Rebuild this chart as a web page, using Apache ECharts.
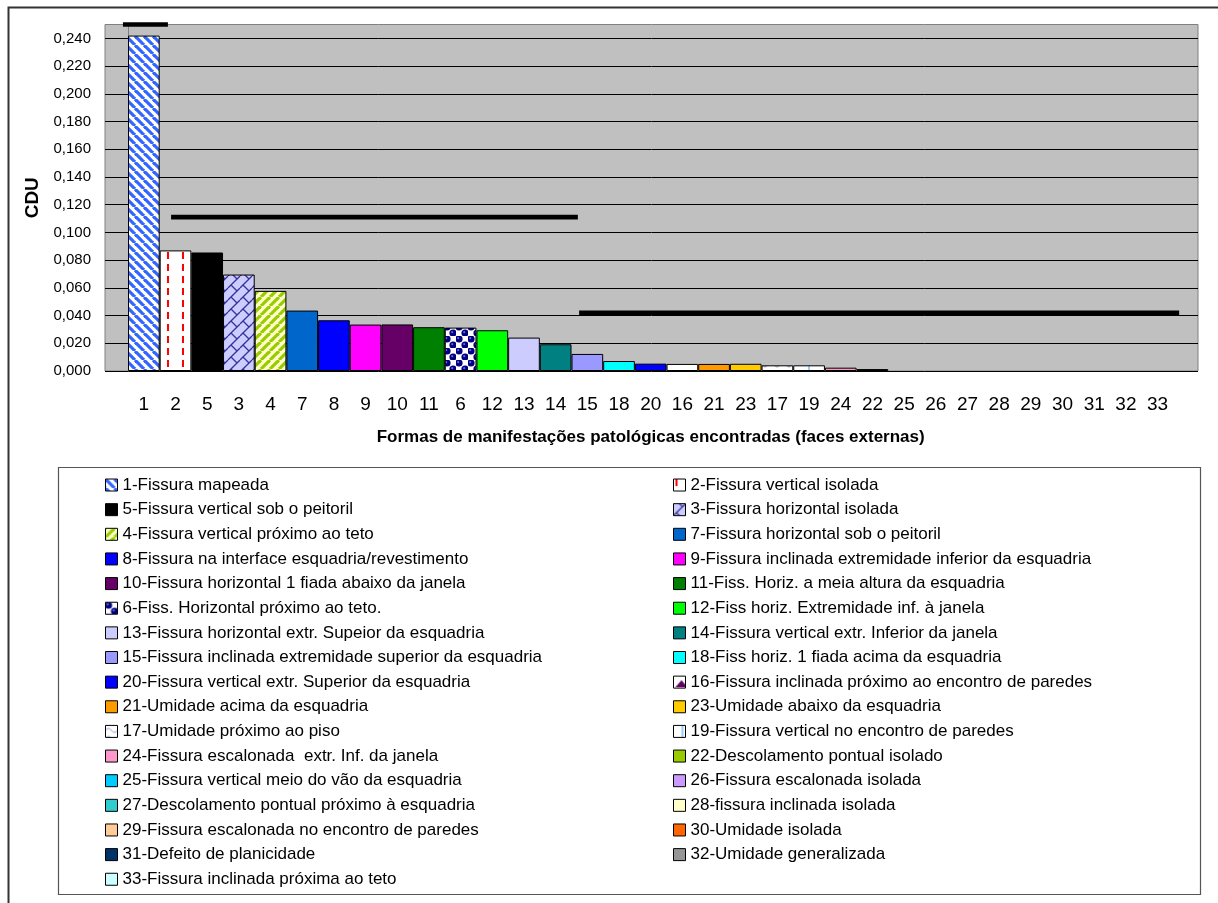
<!DOCTYPE html>
<html>
<head>
<meta charset="utf-8">
<script src="https://cdn.jsdelivr.net/npm/echarts@6/dist/echarts.min.js"></script>
<style>
  html, body { margin: 0; padding: 0; background: #fff; }
  #chart { width: 1218px; height: 903px; }
</style>
</head>
<body>
<div id="chart"></div>
<script>
// Categories in Pareto order (pathology number)
const categories = ['1','2','5','3','4','7','8','9','10','11','6','12','13','14','15','18','20','16','21','23','17','19','24','22','25','26','27','28','29','30','31','32','33'];

// CDU value for each category
const cduValues = [0.242, 0.087, 0.0855, 0.0696, 0.0578, 0.0436, 0.0366, 0.0335, 0.0336, 0.0316,
                   0.0313, 0.0294, 0.0241, 0.0193, 0.0123, 0.0072, 0.0053, 0.0051, 0.0051, 0.0052,
                   0.0041, 0.0041, 0.0024, 0.0014, 0, 0, 0, 0, 0, 0, 0, 0, 0];

// Full legend names, same order as the categories
const seriesNames = [
  '1-Fissura mapeada',
  '2-Fissura vertical isolada',
  '5-Fissura vertical sob o peitoril',
  '3-Fissura horizontal isolada',
  '4-Fissura vertical próximo ao teto',
  '7-Fissura horizontal sob o peitoril',
  '8-Fissura na interface esquadria/revestimento',
  '9-Fissura inclinada extremidade inferior da esquadria',
  '10-Fissura horizontal 1 fiada abaixo da janela',
  '11-Fiss. Horiz. a meia altura da esquadria',
  '6-Fiss. Horizontal próximo ao teto.',
  '12-Fiss horiz. Extremidade inf. à janela',
  '13-Fissura horizontal extr. Supeior da esquadria',
  '14-Fissura vertical extr. Inferior da janela',
  '15-Fissura inclinada extremidade superior da esquadria',
  '18-Fiss horiz. 1 fiada acima da esquadria',
  '20-Fissura vertical extr. Superior da esquadria',
  '16-Fissura inclinada próximo ao encontro de paredes',
  '21-Umidade acima da esquadria',
  '23-Umidade abaixo da esquadria',
  '17-Umidade próximo ao piso',
  '19-Fissura vertical no encontro de paredes',
  '24-Fissura escalonada  extr. Inf. da janela',
  '22-Descolamento pontual isolado',
  '25-Fissura vertical meio do vão da esquadria',
  '26-Fissura escalonada isolada',
  '27-Descolamento pontual próximo à esquadria',
  '28-fissura inclinada isolada',
  '29-Fissura escalonada no encontro de paredes',
  '30-Umidade isolada',
  '31-Defeito de planicidade',
  '32-Umidade generalizada',
  '33-Fissura inclinada próxima ao teto'
];

// Fill of each bar: a colour, or the name of a hatch pattern
const barFills = ['hatchBlue', 'dashRed', '#000000', 'brickNavy', 'hatchGreen', '#0066CC', '#0000FF', '#FF00FF',
                  '#660066', '#008000', 'spheres', '#00FF00', '#CCCCFF', '#008080', '#9999FF', '#00FFFF',
                  '#0000FF', 'triangles', '#FF9900', '#FFCC00', 'waves', 'vlines', '#FF99CC', '#99CC00',
                  '#00CCFF', '#CC99FF', '#33CCCC', '#FFFFCC', '#FFCC99', '#FF6600', '#003366', '#969696', '#CCFFFF'];

// Y axis tick labels
const yTicks = [0, 0.02, 0.04, 0.06, 0.08, 0.10, 0.12, 0.14, 0.16, 0.18, 0.20, 0.22, 0.24];

// Class limit lines (A / B / C groups), x in bar-slot units
const classLineFrom  = [-0.16, 1.36, 14.24];
const classLineTo    = [1.26, 14.2, 33.18];
const classLineValue = [0.25, 0.111, 0.042];

const FONT = 'Liberation Sans, Arial, sans-serif';

function makePattern(w, h, draw) {
  const c = document.createElement('canvas');
  c.width = w; c.height = h;
  const ctx = c.getContext('2d');
  draw(ctx, w, h);
  return { image: c, repeat: 'repeat' };
}

const patterns = {
  hatchBlue: makePattern(9, 9, (ctx, s) => {
    ctx.fillStyle = '#fff'; ctx.fillRect(0, 0, s, s);
    ctx.strokeStyle = '#3366FF'; ctx.lineWidth = 3.2;
    for (const o of [-s, 0, s]) { ctx.beginPath(); ctx.moveTo(o, 0); ctx.lineTo(o + s, s); ctx.stroke(); }
  }),
  hatchGreen: makePattern(9, 9, (ctx, s) => {
    ctx.fillStyle = '#FFFFCC'; ctx.fillRect(0, 0, s, s);
    ctx.strokeStyle = '#99CC00'; ctx.lineWidth = 3.2;
    for (const o of [-s, 0, s]) { ctx.beginPath(); ctx.moveTo(o, s); ctx.lineTo(o + s, 0); ctx.stroke(); }
  }),
  dashRed: makePattern(15, 12, (ctx, w, h) => {
    ctx.fillStyle = '#fff'; ctx.fillRect(0, 0, w, h);
    ctx.fillStyle = '#FF0000'; ctx.fillRect(2, 0, 2, 7);
  }),
  brickNavy: makePattern(12, 12, (ctx, s) => {
    ctx.fillStyle = '#CCCCFF'; ctx.fillRect(0, 0, s, s);
    ctx.strokeStyle = '#333399'; ctx.lineWidth = 1.3;
    for (const o of [-s, 0, s]) { ctx.beginPath(); ctx.moveTo(o, s); ctx.lineTo(o + s, 0); ctx.stroke(); }
    ctx.beginPath(); ctx.moveTo(3, 9); ctx.lineTo(9, 15); ctx.stroke();
    ctx.beginPath(); ctx.moveTo(3, -3); ctx.lineTo(9, 3); ctx.stroke();
  }),
  spheres: makePattern(12, 12, (ctx, s) => {
    ctx.fillStyle = '#fff'; ctx.fillRect(0, 0, s, s);
    ctx.fillStyle = '#000080';
    for (const [x, y] of [[3, 3], [9, 9]]) { ctx.beginPath(); ctx.arc(x, y, 3.6, 0, Math.PI * 2); ctx.fill(); }
    ctx.fillStyle = '#6666CC';
    for (const [x, y] of [[2.2, 2.2], [8.2, 8.2]]) { ctx.beginPath(); ctx.arc(x, y, 1.1, 0, Math.PI * 2); ctx.fill(); }
  }),
  triangles: makePattern(16, 16, (ctx, s) => {
    ctx.fillStyle = '#fff'; ctx.fillRect(0, 0, s, s);
    ctx.fillStyle = '#660066';
    ctx.beginPath(); ctx.moveTo(2, 11); ctx.lineTo(8, 4); ctx.lineTo(14, 11); ctx.closePath(); ctx.fill();
  }),
  waves: makePattern(12, 8, (ctx, w, h) => {
    ctx.fillStyle = '#fff'; ctx.fillRect(0, 0, w, h);
    ctx.strokeStyle = '#9999CC'; ctx.lineWidth = 1;
    ctx.beginPath(); ctx.moveTo(0, 5); ctx.quadraticCurveTo(3, 1, 6, 5); ctx.quadraticCurveTo(9, 9, 12, 5); ctx.stroke();
  }),
  vlines: makePattern(16, 8, (ctx, w, h) => {
    ctx.fillStyle = '#fff'; ctx.fillRect(0, 0, w, h);
    ctx.fillStyle = '#99CCFF'; ctx.fillRect(8, 0, 2, h);
  })
};

function fillFor(i) {
  const f = barFills[i];
  return patterns[f] || f;
}

const barSeries = categories.map((c, i) => ({
  name: seriesNames[i],
  type: 'bar',
  xAxisIndex: 1,
  yAxisIndex: 1,
  stack: 'cdu',
  barWidth: '100%',
  data: categories.map((_, j) => (j === i ? cduValues[i] : '-')),
  itemStyle: { color: fillFor(i), borderColor: '#000', borderWidth: cduValues[i] > 0 ? 1 : 0 }
}));

const classSeries = classLineValue.map((v, k) => ({
  type: 'line',
  xAxisIndex: 0,
  yAxisIndex: 0,
  clip: false,
  symbol: 'none',
  silent: true,
  lineStyle: { color: '#000', width: 4.6, cap: 'butt' },
  data: [[classLineFrom[k], v], [classLineTo[k], v]]
}));

const legendCommon = {
  orient: 'vertical',
  top: 472.7,
  padding: 0,
  itemGap: 0,
  itemWidth: 12,
  itemHeight: 12,
  icon: 'rect',
  selectedMode: false,
  itemStyle: { borderColor: '#000', borderWidth: 1 },
  textStyle: { fontFamily: FONT, fontSize: 17, color: '#000', lineHeight: 24.64 }
};

const chart = echarts.init(document.getElementById('chart'), null, { renderer: 'canvas' });
chart.setOption({
  animation: false,
  backgroundColor: '#fff',
  textStyle: { fontFamily: FONT },
  grid: [
    { left: 105, top: 24.5, width: 1093, height: 346.5, show: true,
      backgroundColor: '#C0C0C0', borderColor: '#808080', borderWidth: 1 },
    { left: 128, top: 24.5, width: 1045.4, height: 346.5 }
  ],
  xAxis: [
    { gridIndex: 0, type: 'value', min: -0.726, max: 33.775, show: false },
    { gridIndex: 1, type: 'category', data: categories,
      axisLine: { show: false }, axisTick: { show: false },
      axisLabel: { interval: 0, fontSize: 19, color: '#000', margin: 24, fontFamily: FONT },
      name: 'Formas de manifestações patológicas encontradas (faces externas)',
      nameLocation: 'middle', nameGap: 58,
      nameTextStyle: { fontSize: 17, fontWeight: 'bold', color: '#000', fontFamily: FONT } }
  ],
  yAxis: [
    { gridIndex: 0, type: 'value', min: 0, max: 0.25, interval: 0.02,
      axisLine: { show: true, lineStyle: { color: '#808080' } },
      axisTick: { show: true, length: 5, lineStyle: { color: '#000' }, customValues: yTicks },
      axisLabel: { customValues: yTicks, fontSize: 15, color: '#000', margin: 14, fontFamily: FONT,
                   formatter: v => v.toFixed(3).replace('.', ',') },
      splitLine: { show: true, lineStyle: { color: '#000', width: 1 } },
      name: 'CDU', nameLocation: 'middle', nameGap: 61,
      nameTextStyle: { fontSize: 19, fontWeight: 'bold', color: '#000', fontFamily: FONT } },
    { gridIndex: 1, type: 'value', min: 0, max: 0.25, show: false, splitLine: { show: false } }
  ],
  legend: [
    Object.assign({}, legendCommon, { left: 105, data: seriesNames.filter((_, i) => i % 2 === 0) }),
    Object.assign({}, legendCommon, { left: 673, data: seriesNames.filter((_, i) => i % 2 === 1) })
  ],
  graphic: [
    { type: 'rect', silent: true, z: -1,
      shape: { x: 8.5, y: 7.5, width: 1400, height: 1100 },
      style: { fill: null, stroke: '#333', lineWidth: 2 } },
    { type: 'rect', silent: true, z: -1,
      shape: { x: 58.5, y: 467.5, width: 1142, height: 427 },
      style: { fill: null, stroke: '#555', lineWidth: 1.2 } }
  ],
  series: barSeries.concat(classSeries)
});
</script>
</body>
</html>
